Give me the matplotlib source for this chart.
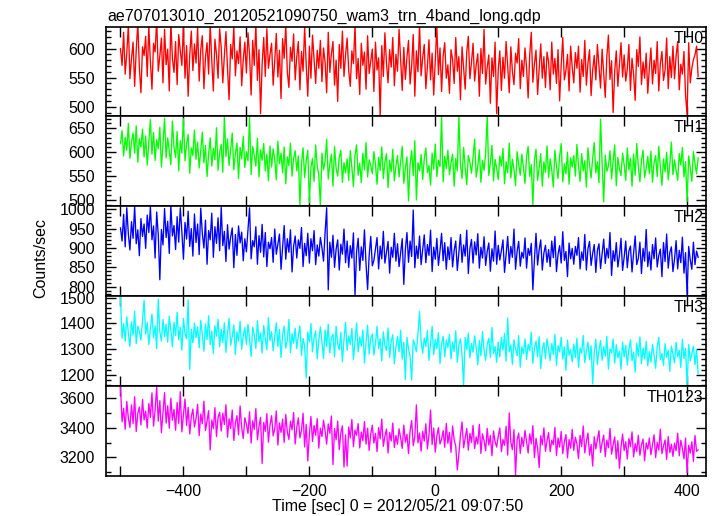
# -*- coding: utf-8 -*-

#-------------------------------------------------------------------------------
# WAM light curve, 4 bands + sum (qdp style)
#-------------------------------------------------------------------------------

import numpy as np
import matplotlib
matplotlib.use("Agg")
import matplotlib.pyplot as plt
from matplotlib.ticker import MultipleLocator, FuncFormatter

plt.rcParams['font.family'] = ['Liberation Sans', 'DejaVu Sans']
plt.rcParams['font.size'] = 11.5

#-------------------------------------------------------------------------------
# DATA (one value every 2.5 s, 40 s per row)
title = "ae707013010_20120521090750_wam3_trn_4band_long.qdp"
xlabel = "Time [sec] 0 = 2012/05/21 09:07:50"
ylabel = "Counts/sec"
time = np.arange(-500, 420, 2.5)

th0 = [600, 571, 628, 556, 592, 640, 548, 583, 611, 535, 597, 645, 566, 524, 603, 588,
       621, 552, 639, 577, 530, 609, 594, 650, 561, 587, 618, 541, 633, 572, 599, 527,
       646, 583, 559, 612, 538, 624, 596, 571, 641, 549, 605, 518, 589, 630, 562, 608,
       575, 637, 544, 598, 622, 531, 585, 610, 556, 643, 579, 527, 616, 590, 549, 634,
       602, 541, 588, 629, 565, 512, 607, 582, 638, 553, 596, 574, 620, 536, 581, 611,
       558, 627, 589, 520, 614, 571, 642, 545, 598, 488, 573, 619, 552, 634, 566, 590,
       609, 537, 579, 626, 551, 597, 514, 617, 583, 641, 560, 533, 602, 578, 625, 546,
       586, 612, 529, 595, 561, 638, 572, 518, 604, 549, 623, 581, 540, 597, 566, 614,
       543, 601, 576, 524, 628, 559, 591, 612, 537, 580, 509, 607, 566, 630, 552, 589,
       618, 562, 535, 596, 574, 640, 548, 583, 521, 609, 571, 594, 530, 622, 557, 578,
       599, 526, 611, 563, 584, 483, 605, 552, 627, 575, 541, 598, 568, 619, 536, 590,
       561, 633, 579, 528, 602, 547, 585, 614, 539, 571, 624, 518, 596, 560, 642, 553,
       584, 607, 531, 569, 615, 546, 592, 520, 578, 638, 555, 601, 526, 587, 610, 549,
       572, 523, 598, 581, 540, 619, 561, 586, 512, 603, 567, 530, 594, 621, 548, 576,
       609, 544, 572, 591, 518, 600, 557, 633, 539, 568, 589, 506, 584, 552, 611, 488,
       563, 596, 528, 585, 549, 612, 570, 524, 603, 561, 538, 592, 575, 617, 531, 580,
       552, 601, 567, 515, 589, 628, 542, 574, 597, 521, 565, 608, 549, 586, 533, 594,
       577, 529, 611, 556, 583, 540, 598, 510, 571, 619, 546, 562, 590, 527, 604, 568,
       541, 593, 566, 604, 525, 581, 552, 614, 537, 575, 598, 519, 563, 588, 546, 607,
       570, 532, 599, 558, 516, 586, 623, 547, 579, 490, 561, 596, 535, 572, 610, 551,
       589, 544, 565, 607, 528, 583, 556, 511, 598, 569, 620, 538, 577, 549, 592, 523,
       566, 601, 539, 580, 557, 612, 527, 574, 595, 545, 563, 618, 531, 586, 550, 604,
       548, 587, 612, 529, 573, 556, 595, 520, 486, 610, 541, 566, 581, 589, 604, 552]

th1 = [618, 645, 592, 631, 604, 660, 587, 622, 640, 598, 655, 579, 628, 611, 648, 590,
       634, 573, 619, 668, 596, 641, 583, 626, 607, 652, 569, 615, 671, 588, 630, 601,
       574, 665, 610, 589, 643, 561, 624, 598, 670, 582, 617, 637, 556, 609, 593, 646,
       585, 621, 567, 603, 642, 578, 614, 549, 596, 630, 571, 608, 584, 651, 562, 599,
       616, 558, 674, 591, 628, 572, 605, 640, 563, 597, 619, 545, 610, 586, 633, 568,
       601, 582, 674, 553, 612, 594, 571, 629, 548, 605, 583, 618, 561, 596, 540, 613,
       569, 607, 585, 542, 623, 576, 598, 557, 611, 534, 590, 572, 619, 550, 587, 603,
       561, 592, 488, 576, 609, 547, 582, 604, 494, 568, 587, 539, 615, 571, 552, 489,
       598, 563, 581, 627, 544, 575, 596, 529, 612, 566, 550, 589, 604, 537, 578, 557,
       586, 541, 603, 569, 528, 594, 615, 552, 577, 536, 598, 563, 620, 548, 584, 572,
       555, 601, 574, 533, 589, 562, 611, 545, 579, 597, 526, 583, 559, 606, 540, 571,
       593, 548, 580, 612, 535, 567, 590, 498, 575, 603, 551, 624, 500, 578, 561, 595,
       543, 586, 609, 557, 572, 531, 598, 564, 617, 549, 583, 570, 675, 538, 591, 566,
       604, 553, 578, 596, 529, 587, 561, 675, 574, 545, 610, 568, 532, 593, 579, 556,
       589, 627, 548, 571, 605, 537, 583, 562, 598, 676, 551, 577, 614, 540, 585, 566,
       543, 592, 571, 608, 534, 580, 557, 619, 546, 585, 564, 530, 601, 575, 552, 596,
       568, 535, 590, 612, 549, 574, 490, 583, 606, 541, 567, 597, 529, 580, 558, 613,
       547, 586, 563, 527, 604, 571, 545, 592, 618, 538, 576, 555, 600, 533, 588, 569,
       593, 550, 616, 572, 539, 597, 561, 582, 527, 609, 574, 546, 588, 620, 557, 580,
       536, 669, 578, 496, 594, 560, 571, 603, 544, 582, 615, 530, 589, 565, 551, 598,
       574, 541, 609, 563, 587, 529, 596, 552, 618, 570, 538, 583, 604, 547, 566, 591,
       555, 602, 537, 578, 593, 549, 612, 568, 531, 586, 559, 600, 542, 575, 621, 553,
       584, 562, 541, 597, 573, 610, 548, 580, 497, 592, 567, 539, 601, 576, 555, 588]

th2 = [952, 918, 987, 903, 1004, 936, 895, 968, 925, 1008, 911, 947, 880, 976, 930, 962,
       899, 985, 940, 1006, 921, 957, 874, 993, 934, 818, 948, 908, 1002, 927, 969, 886,
       1010, 931, 958, 896, 981, 915, 1004, 942, 871, 966, 923, 995, 904, 950, 879, 988,
       914, 962, 883, 1003, 937, 900, 972, 858, 945, 921, 990, 876, 955, 912, 978, 893,
       1005, 906, 943, 865, 960, 897, 928, 952, 849, 935, 881, 957, 913, 941, 867, 924,
       890, 946, 1004, 872, 919, 903, 955, 858, 932, 889, 961, 877, 940, 852, 915, 898,
       927, 863, 949, 884, 910, 936, 845, 903, 958, 871, 924, 889, 947, 838, 905, 931,
       874, 921, 899, 953, 852, 912, 880, 938, 861, 924, 893, 945, 857, 908, 879, 927,
       901, 866, 940, 1004, 792, 915, 876, 933, 850, 897, 921, 843, 910, 884, 949, 862,
       918, 850, 906, 874, 939, 779, 890, 925, 842, 903, 868, 947, 859, 793, 881, 930,
       854, 868, 898, 927, 846, 905, 872, 943, 861, 889, 917, 835, 902, 876, 938, 866,
       911, 852, 887, 924, 806, 896, 940, 863, 918, 878, 998, 849, 905, 873, 931, 857,
       896, 934, 862, 909, 881, 946, 839, 902, 871, 925, 855, 893, 938, 867, 914, 845,
       903, 870, 927, 851, 894, 918, 842, 887, 935, 863, 908, 879, 946, 834, 899, 922,
       861, 916, 882, 937, 848, 902, 874, 929, 855, 891, 913, 840, 898, 866, 944, 858,
       907, 869, 893, 921, 837, 885, 930, 860, 904, 876, 949, 845, 892, 917, 853, 889,
       874, 926, 848, 899, 881, 912, 792, 870, 938, 856, 895, 921, 843, 887, 907, 863,
       896, 852, 918, 875, 930, 839, 884, 906, 861, 942, 868, 891, 826, 913, 872, 899,
       858, 904, 881, 927, 846, 890, 868, 935, 843, 898, 917, 855, 886, 909, 837, 894,
       911, 847, 885, 923, 860, 899, 874, 940, 829, 893, 866, 914, 851, 881, 925, 842,
       876, 918, 849, 892, 905, 838, 887, 931, 857, 873, 915, 834, 899, 866, 948, 852,
       890, 843, 909, 872, 926, 851, 881, 897, 826, 914, 865, 936, 848, 888, 903, 839,
       871, 919, 846, 894, 862, 928, 835, 888, 778, 904, 869, 845, 915, 857, 892, 876]

th3 = [1500, 1342, 1398, 1331, 1425, 1362, 1310, 1406, 1354, 1447, 1321, 1389, 1370, 1335, 1412, 1489,
       1358, 1403, 1318, 1380, 1436, 1345, 1391, 1302, 1494, 1367, 1331, 1415, 1349, 1396, 1327, 1428,
       1373, 1309, 1404, 1352, 1443, 1336, 1385, 1296, 1419, 1360, 1340, 1490, 1221, 1377, 1324, 1401,
       1344, 1386, 1305, 1412, 1356, 1292, 1398, 1337, 1429, 1318, 1370, 1283, 1391, 1350, 1415, 1309,
       1377, 1326, 1402, 1288, 1361, 1419, 1315, 1348, 1394, 1279, 1367, 1331, 1408, 1300, 1352, 1383,
       1319, 1396, 1341, 1272, 1385, 1356, 1303, 1410, 1329, 1363, 1285, 1391, 1340, 1298, 1422, 1333,
       1368, 1294, 1347, 1402, 1311, 1376, 1268, 1355, 1389, 1304, 1336, 1415, 1287, 1360, 1323, 1381,
       1302, 1352, 1390, 1276, 1341, 1313, 1188, 1366, 1328, 1399, 1290, 1345, 1371, 1262, 1334, 1386,
       1329, 1264, 1374, 1310, 1397, 1285, 1343, 1358, 1271, 1389, 1320, 1297, 1365, 1251, 1338, 1404,
       1296, 1351, 1318, 1380, 1259, 1332, 1401, 1289, 1347, 1312, 1374, 1246, 1326, 1393, 1281, 1342,
       1359, 1277, 1322, 1388, 1302, 1340, 1255, 1367, 1314, 1295, 1382, 1268, 1331, 1356, 1243, 1309,
       1348, 1290, 1373, 1261, 1326, 1182, 1345, 1301, 1272, 1180, 1336, 1315, 1290, 1360, 1445, 1329,
       1284, 1343, 1310, 1372, 1256, 1321, 1388, 1279, 1337, 1302, 1364, 1244, 1319, 1350, 1270, 1335,
       1306, 1357, 1262, 1328, 1291, 1371, 1249, 1314, 1340, 1277, 1161, 1345, 1298, 1362, 1266, 1322,
       1288, 1351, 1305, 1239, 1333, 1274, 1368, 1296, 1257, 1318, 1342, 1268, 1384, 1283, 1310, 1249,
       1327, 1270, 1345, 1296, 1360, 1253, 1420, 1289, 1317, 1241, 1336, 1301, 1275, 1352, 1230, 1309,
       1282, 1339, 1260, 1318, 1294, 1365, 1245, 1306, 1331, 1271, 1348, 1225, 1297, 1325, 1263, 1340,
       1301, 1256, 1322, 1280, 1357, 1237, 1313, 1289, 1346, 1262, 1309, 1218, 1335, 1276, 1298, 1251,
       1319, 1268, 1342, 1230, 1305, 1284, 1353, 1248, 1292, 1327, 1259, 1313, 1165, 1288, 1338, 1241,
       1296, 1333, 1257, 1310, 1274, 1349, 1223, 1301, 1285, 1339, 1246, 1317, 1267, 1292, 1222, 1328,
       1270, 1314, 1238, 1297, 1336, 1255, 1289, 1211, 1322, 1273, 1347, 1244, 1304, 1262, 1330, 1235,
       1291, 1250, 1318, 1277, 1226, 1309, 1345, 1259, 1283, 1237, 1321, 1268, 1296, 1214, 1312, 1279,
       1247, 1326, 1270, 1295, 1229, 1338, 1264, 1302, 1160, 1318, 1255, 1284, 1311, 1240, 1299, 1205]

th0123 = [3679, 3441, 3532, 3389, 3578, 3466, 3402, 3555, 3428, 3610, 3375, 3497, 3540, 3419, 3592, 3453,
          3512, 3398, 3564, 3470, 3636, 3411, 3521, 3680, 3445, 3583, 3366, 3506, 3638, 3432, 3549, 3397,
          3600, 3451, 3524, 3383, 3571, 3430, 3644, 3372, 3489, 3595, 3416, 3538, 3358, 3476, 3527, 3405,
          3462, 3559, 3347, 3493, 3428, 3580, 3381, 3445, 3516, 3250, 3452, 3394, 3536, 3341, 3471, 3504,
          3378, 3499, 3422, 3556, 3336, 3461, 3395, 3520, 3314, 3433, 3482, 3352, 3548, 3401, 3327, 3468,
          3425, 3362, 3508, 3296, 3447, 3389, 3530, 3318, 3409, 3471, 3158, 3436, 3376, 3495, 3302, 3418,
          3482, 3345, 3391, 3514, 3283, 3433, 3368, 3459, 3301, 3490, 3372, 3321, 3445, 3386, 3503, 3290,
          3403, 3467, 3332, 3381, 3498, 3270, 3422, 3175, 3354, 3476, 3307, 3415, 3349, 3462, 3262, 3397,
          3340, 3451, 3376, 3289, 3426, 3362, 3480, 3150, 3394, 3318, 3445, 3251, 3366, 3413, 3134, 3352,
          3140, 3405, 3331, 3456, 3272, 3384, 3349, 3428, 3263, 3371, 3312, 3442, 3289, 3397, 3246, 3358,
          3417, 3296, 3362, 3238, 3401, 3325, 3459, 3274, 3343, 3391, 3229, 3368, 3310, 3432, 3266, 3347,
          3288, 3393, 3331, 3260, 3418, 3302, 3356, 3225, 3381, 3448, 3279, 3340, 3555, 3298, 3364, 3241,
          3376, 3310, 3427, 3257, 3352, 3520, 3286, 3398, 3235, 3344, 3401, 3290, 3322, 3381, 3268, 3429,
          3295, 3368, 3233, 3412, 3319, 3276, 3114, 3222, 3350, 3439, 3264, 3331, 3395, 3248, 3362, 3301,
          3416, 3259, 3338, 3290, 3423, 3226, 3359, 3312, 3244, 3396, 3283, 3347, 3210, 3378, 3305, 3269,
          3342, 3398, 3237, 3320, 3281, 3410, 3215, 3500, 3302, 3252, 3387, 3080, 3318, 3364, 3226, 3335,
          3273, 3382, 3305, 3229, 3359, 3291, 3414, 3198, 3328, 3263, 3131, 3346, 3284, 3399, 3241, 3312,
          3368, 3238, 3316, 3285, 3402, 3212, 3331, 3269, 3375, 3225, 3304, 3354, 3196, 3320, 3261, 3389,
          3247, 3336, 3290, 3191, 3348, 3272, 3412, 3230, 3307, 3364, 3215, 3287, 3140, 3339, 3256, 3321,
          3380, 3233, 3299, 3350, 3204, 3316, 3264, 3395, 3221, 3286, 3338, 3190, 3311, 3125, 3268, 3357,
          3246, 3305, 3188, 3327, 3271, 3372, 3203, 3293, 3240, 3349, 3214, 3284, 3323, 3176, 3297, 3255,
          3331, 3217, 3286, 3352, 3198, 3302, 3249, 3390, 3225, 3278, 3317, 3186, 3340, 3232, 3289, 3206,
          3296, 3244, 3363, 3210, 3315, 3261, 3189, 3330, 3095, 3281, 3228, 3305, 3172, 3348, 3240, 3250]

names = ["TH0", "TH1", "TH2", "TH3", "TH0123"]
series = [th0, th1, th2, th3, th0123]
colors = ["#ff0000", "#00ff00", "#0000ff", "#00ffff", "#ff00ff"]
ylims = [(484, 637), (487.5, 675.6), (776, 1008.5), (1157, 1506), (3073, 3683)]
ymajor = [50, 50, 50, 100, 200]
yminor = [10, 10, 10, 20, 100]
xlim = (-523, 430)
#-------------------------------------------------------------------------------

#-------------------------------------------------------------------------------
# FIGURE
W, H = 717, 516
fig = plt.figure(figsize=(W / 100, H / 100), dpi=100)
fig.patch.set_facecolor("white")

left, right = 106, 706
tops = [27, 116, 206, 296, 386]
bottom_px = 476

for i in range(5):
  top = tops[i]
  bot = tops[i + 1] if i < 4 else bottom_px
  ax = fig.add_axes([left / W, 1 - bot / H, (right - left) / W, (bot - top) / H])
  ax.plot(time, series[i], color=colors[i], lw=0.95)
  ax.set_xlim(*xlim)
  ax.set_ylim(*ylims[i])
  ax.xaxis.set_major_locator(MultipleLocator(100))
  ax.yaxis.set_major_locator(MultipleLocator(ymajor[i]))
  ax.yaxis.set_minor_locator(MultipleLocator(yminor[i]))
  ax.tick_params(which="both", direction="in", top=True, right=True, width=1, colors="black")
  ax.tick_params(which="major", length=7, pad=8)
  ax.tick_params(which="minor", length=3.5)
  ax.tick_params(axis="y", labelsize=11.5)
  for sp in ax.spines.values():
    sp.set_linewidth(1.2)
  if i < 4:
    ax.tick_params(axis="x", labelbottom=False)
  else:
    ax.xaxis.set_major_formatter(FuncFormatter(
        lambda v, p: ("%d" % v).replace("-", "\u2212") if int(round(v)) % 200 == 0 else ""))
    ax.tick_params(axis="x", labelsize=11.5, pad=6)
  ax.text(0.996, 0.955, names[i], transform=ax.transAxes, ha="right", va="top", fontsize=11.5)

fig.text(107 / W, 1 - 21 / H, title, ha="left", va="baseline", fontsize=11.5)
fig.text(41 / W, 1 - 258 / H, ylabel, rotation=90, ha="center", va="center", fontsize=11.5)
fig.text(398 / W, 1 - 506 / H, xlabel, ha="center", va="center", fontsize=11.5)

plt.savefig("out.png", dpi=100)
plt.close()
